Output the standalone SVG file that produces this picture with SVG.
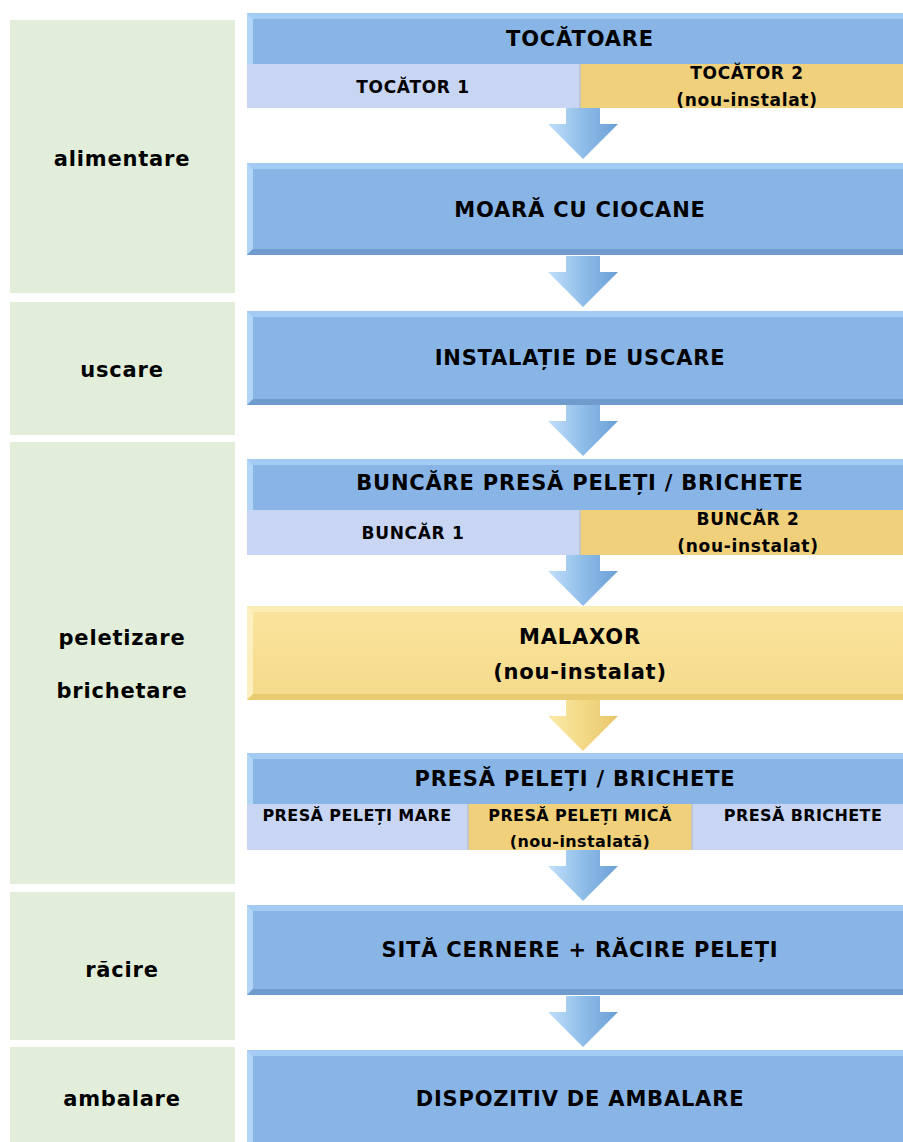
<svg xmlns="http://www.w3.org/2000/svg" width="903" height="1142" viewBox="0 0 903 1142">
<defs>
<style>
.t{font-family:"DejaVu Sans","Verdana",sans-serif;font-weight:bold;fill:#000;text-anchor:middle}
.h{font-size:21px;letter-spacing:0.8px}
.s{font-size:17px;letter-spacing:0.7px}
.xs{font-size:16px;letter-spacing:0.4px}
.phase{fill:#e2eed9}
.blue{fill:#88b5e6}
.lav{fill:#c8d6f4}
.gold{fill:#f0d07a}
.bl{fill:#b3d6f8}
.bt{fill:#a3cbf3}
.bb{fill:#6f9ccc}
</style>
<linearGradient id="arB" x1="0" y1="0" x2="1" y2="0">
<stop offset="0" stop-color="#c2e0fb"/><stop offset="0.5" stop-color="#8fbde9"/><stop offset="1" stop-color="#6b9fd6"/>
</linearGradient>
<linearGradient id="arY" x1="0" y1="0" x2="1" y2="0">
<stop offset="0" stop-color="#fbeaa9"/><stop offset="0.5" stop-color="#f3d987"/><stop offset="1" stop-color="#e8c66a"/>
</linearGradient>
<linearGradient id="malG" x1="0" y1="0" x2="0" y2="1">
<stop offset="0" stop-color="#fae49e"/><stop offset="1" stop-color="#f5da8a"/>
</linearGradient>
<path id="arrow" d="M-17,0 H17 V16 H35 L0,51 L-35,16 H-17 Z"/>
</defs>

<g id="phases">
<g id="ph-alimentare"><rect class="phase" x="10" y="20" width="225" height="273"/><text class="t h" x="122" y="166">alimentare</text></g>
<g id="ph-uscare"><rect class="phase" x="10" y="302" width="225" height="133"/><text class="t h" x="122" y="377">uscare</text></g>
<g id="ph-peletizare"><rect class="phase" x="10" y="442" width="225" height="442"/><text class="t h" x="122" y="645">peletizare</text><text class="t h" x="122" y="698">brichetare</text></g>
<g id="ph-racire"><rect class="phase" x="10" y="892" width="225" height="148"/><text class="t h" x="122" y="977">răcire</text></g>
<g id="ph-ambalare"><rect class="phase" x="10" y="1047" width="225" height="95"/><text class="t h" x="122" y="1106">ambalare</text></g>
</g>

<g id="connectors">
<use href="#arrow" x="583" y="108" fill="url(#arB)"/>
<use href="#arrow" x="583" y="256" fill="url(#arB)"/>
<use href="#arrow" x="583" y="405" fill="url(#arB)"/>
<use href="#arrow" x="583" y="555" fill="url(#arB)"/>
<use href="#arrow" x="583" y="700" fill="url(#arY)"/>
<use href="#arrow" x="583" y="850" fill="url(#arB)"/>
<use href="#arrow" x="583" y="996" fill="url(#arB)"/>
</g>

<g id="tocatoare">
<rect class="blue" x="247" y="13" width="656" height="51"/>
<polygon class="bt" points="247,13 903,13 903,19 253,19"/>
<polygon class="bl" points="247,13 253,19 253,64 247,64"/>
<text class="t h" x="580" y="46">TOCĂTOARE</text>
<rect class="lav" x="247" y="64" width="333" height="44"/>
<rect class="gold" x="580" y="64" width="323" height="44"/>
<line x1="580" y1="64" x2="580" y2="108" stroke="#b9c2cf" stroke-width="1.5"/>
<text class="t s" x="413" y="93">TOCĂTOR 1</text>
<text class="t s" x="747" y="79">TOCĂTOR 2</text>
<text class="t s" x="747" y="106">(nou-instalat)</text>
</g>

<g id="moara">
<rect class="blue" x="247" y="163" width="656" height="92"/>
<polygon class="bt" points="247,163 903,163 903,169 253,169"/>
<polygon class="bl" points="247,163 253,169 253,249 247,255"/>
<polygon class="bb" points="247,255 253,249 903,249 903,255"/>
<text class="t h" x="580" y="217">MOARĂ CU CIOCANE</text>
</g>

<g id="uscare">
<rect class="blue" x="247" y="311" width="656" height="94"/>
<polygon class="bt" points="247,311 903,311 903,317 253,317"/>
<polygon class="bl" points="247,311 253,317 253,399 247,405"/>
<polygon class="bb" points="247,405 253,399 903,399 903,405"/>
<text class="t h" x="580" y="365">INSTALAȚIE DE USCARE</text>
</g>

<g id="buncare">
<rect class="blue" x="247" y="459" width="656" height="51"/>
<polygon class="bt" points="247,459 903,459 903,465 253,465"/>
<polygon class="bl" points="247,459 253,465 253,510 247,510"/>
<text class="t h" x="580" y="490">BUNCĂRE PRESĂ PELEȚI / BRICHETE</text>
<rect class="lav" x="247" y="510" width="333" height="45"/>
<rect class="gold" x="580" y="510" width="323" height="45"/>
<line x1="580" y1="510" x2="580" y2="555" stroke="#b9c2cf" stroke-width="1.5"/>
<text class="t s" x="413" y="539">BUNCĂR 1</text>
<text class="t s" x="748" y="525">BUNCĂR 2</text>
<text class="t s" x="748" y="552">(nou-instalat)</text>
</g>

<g id="malaxor">
<rect x="247" y="606" width="656" height="94" fill="url(#malG)"/>
<polygon points="247,606 903,606 903,612 253,612" fill="#fcecb5"/>
<polygon points="247,606 253,612 253,694 247,700" fill="#fdf0c0"/>
<polygon points="247,700 253,694 903,694 903,700" fill="#e9cb72"/>
<text class="t h" x="580" y="644">MALAXOR</text>
<text class="t h" x="580" y="679">(nou-instalat)</text>
</g>

<g id="presa">
<rect class="blue" x="247" y="753" width="656" height="51"/>
<polygon class="bt" points="247,753 903,753 903,759 253,759"/>
<polygon class="bl" points="247,753 253,759 253,804 247,804"/>
<text class="t h" x="575" y="786">PRESĂ PELEȚI / BRICHETE</text>
<rect class="lav" x="247" y="804" width="221" height="46"/>
<rect class="gold" x="468" y="804" width="224" height="46"/>
<rect class="lav" x="692" y="804" width="211" height="46"/>
<line x1="468" y1="804" x2="468" y2="850" stroke="#b9c2cf" stroke-width="1.5"/>
<line x1="692" y1="804" x2="692" y2="850" stroke="#b9c2cf" stroke-width="1.5"/>
<text class="t xs" x="357" y="821">PRESĂ PELEȚI MARE</text>
<text class="t xs" x="580" y="821">PRESĂ PELEȚI MICĂ</text>
<text class="t xs" x="580" y="847">(nou-instalată)</text>
<text class="t xs" x="803" y="821">PRESĂ BRICHETE</text>
</g>

<g id="sita">
<rect class="blue" x="247" y="905" width="656" height="90"/>
<polygon class="bt" points="247,905 903,905 903,911 253,911"/>
<polygon class="bl" points="247,905 253,911 253,989 247,995"/>
<polygon class="bb" points="247,995 253,989 903,989 903,995"/>
<text class="t h" x="580" y="957">SITĂ CERNERE + RĂCIRE PELEȚI</text>
</g>

<g id="ambalare">
<rect class="blue" x="247" y="1050" width="656" height="92"/>
<polygon class="bt" points="247,1050 903,1050 903,1056 253,1056"/>
<polygon class="bl" points="247,1050 253,1056 253,1142 247,1142"/>
<text class="t h" x="580" y="1106">DISPOZITIV DE AMBALARE</text>
</g>
</svg>
